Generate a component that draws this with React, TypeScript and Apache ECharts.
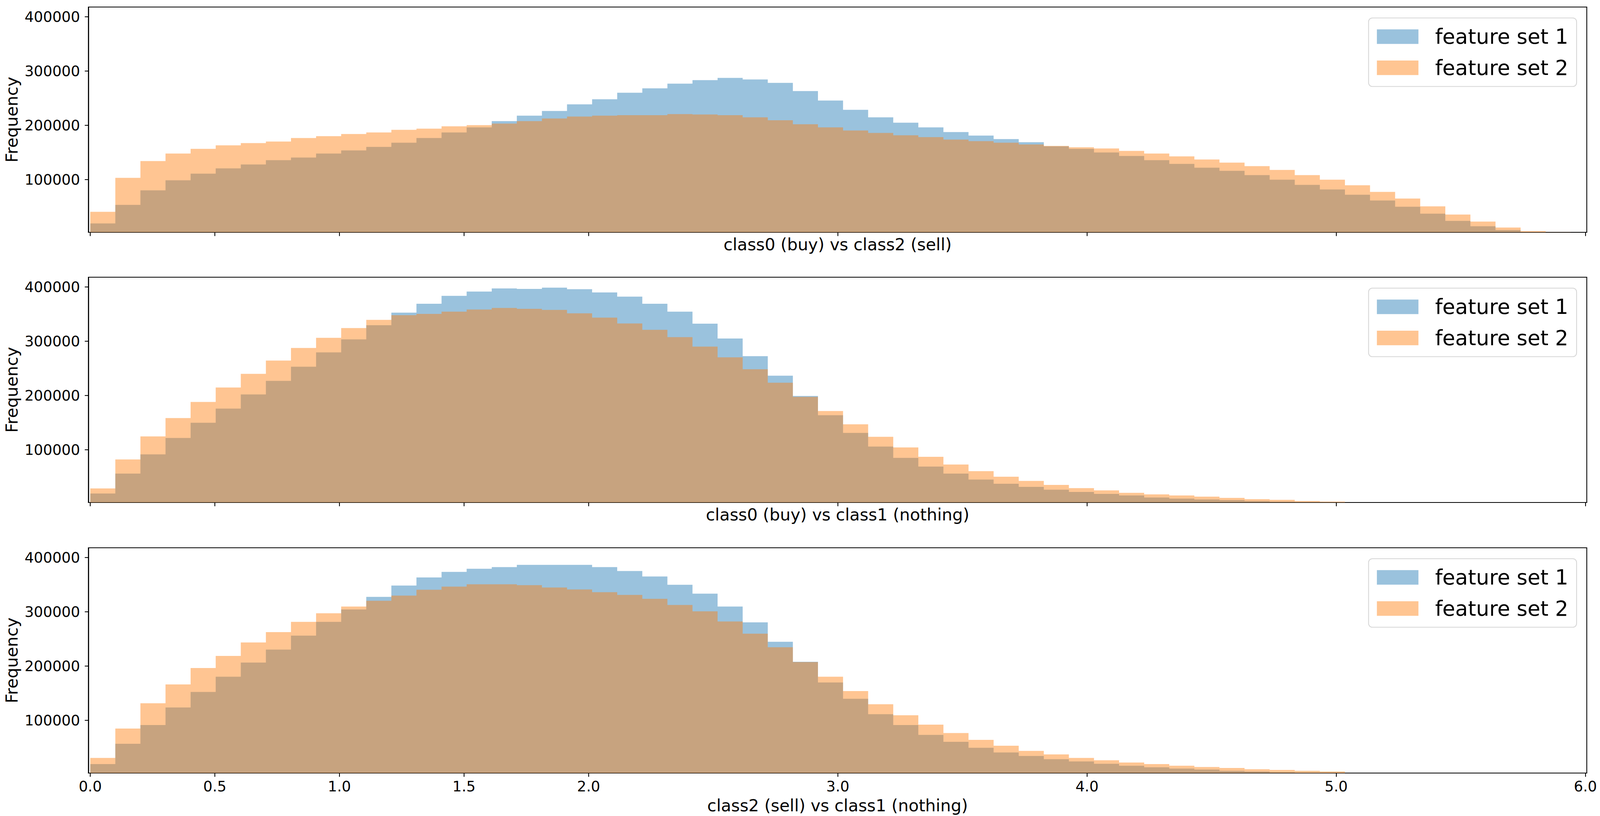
import React, { useEffect, useRef } from "react";
import * as echarts from "echarts";

// ---------- data ----------
const BIN_WIDTH = 0.1007;
const X_TICKS = [0, 0.5, 1.0, 1.5, 2.0, 3.0, 4.0, 5.0, 6.0];
const Y_TICKS = [100000, 200000, 300000, 400000];
const SERIES_NAMES = ["feature set 1", "feature set 2"];
const PANEL_TITLES = [
  "class0 (buy) vs class2 (sell)",
  "class0 (buy) vs class1 (nothing)",
  "class2 (sell) vs class1 (nothing)",
];

const P1_FS1 = [
  19300, 53600, 80300, 98900, 111100, 120800, 127900, 135900, 140700, 148100,
  153900, 160300, 168000, 176700, 187000, 196300, 207800, 217800, 226500, 238700,
  248000, 260200, 268200, 276900, 283300, 287500, 284600, 278200, 263100, 245700,
  228700, 214900, 204900, 196300, 187600, 181200, 174700, 169000, 161500, 156800,
  150000, 143600, 135900, 129100, 122100, 116300, 108300, 99900, 90300, 81900,
  72300, 61700, 50100, 37300, 24100, 14100, 7100, 3500, 1500,
];
const P1_FS2 = [
  40800, 103400, 134300, 148100, 156800, 163200, 167400, 170300, 176700, 180200,
  184100, 187000, 191800, 194000, 198200, 200400, 203300, 207800, 212700, 216200,
  217800, 218800, 218800, 220700, 220000, 218800, 214900, 209400, 202100, 196300,
  190500, 186000, 181800, 178300, 173800, 170900, 168000, 164800, 162200, 159700,
  157400, 152900, 148100, 142900, 137200, 131400, 125000, 117900, 108300, 99900,
  89600, 77400, 65200, 50800, 35700, 22800, 11900, 5100, 3200,
];
const P2_FS1 = [
  19500, 56200, 91600, 121900, 149900, 176000, 202000, 227100, 253200, 279600,
  303400, 329500, 352700, 369100, 383600, 391600, 397400, 396400, 398700, 395800,
  390000, 382300, 369100, 354600, 332400, 305000, 272500, 236500, 199100, 163700,
  131200, 106100, 85200, 69100, 56200, 45300, 37600, 31800, 26600, 22400,
  18900, 16000, 12100, 10200, 8600, 7300, 5700, 4700, 4100, 3800,
  2500, 1500, 800, 400, 200, 100, 50, 0, 0,
];
const P2_FS2 = [
  28900, 82300, 124800, 158600, 188200, 214900, 240000, 264500, 287600, 306300,
  324300, 339500, 348100, 350400, 354600, 358400, 361300, 359700, 357800, 351400,
  343600, 332700, 321100, 307600, 290200, 270300, 248400, 223600, 197500, 171500,
  147000, 124100, 104500, 87100, 73000, 60700, 50400, 42700, 35300, 29500,
  25300, 20800, 17900, 16000, 13700, 11500, 9200, 7900, 5700, 4700,
  2800, 1800, 1000, 600, 300, 150, 80, 0, 0,
];
const P3_FS1 = [
  19500, 57000, 91500, 123800, 152500, 180500, 206600, 230400, 256200, 281600,
  304400, 327600, 348500, 363400, 373600, 379400, 382400, 386600, 386600, 386600,
  382400, 375200, 365100, 349800, 333500, 309700, 280600, 244800, 207900, 169800,
  139800, 111400, 91500, 73300, 60500, 49500, 41000, 34500, 28600, 24400,
  20100, 16500, 13600, 11300, 9400, 7100, 5800, 4500, 3800, 3500,
  2200, 1300, 700, 300, 150, 80, 0, 0, 0,
];
const P3_FS2 = [
  30900, 85000, 131600, 166200, 196500, 218700, 243500, 262700, 281600, 297300,
  309700, 320400, 329900, 340600, 346500, 350700, 350700, 349100, 344900, 341300,
  336100, 331200, 324000, 312600, 300900, 282300, 259800, 234700, 207500, 180500,
  154100, 129700, 109500, 92200, 76800, 64100, 53400, 43900, 37400, 30900,
  26600, 22400, 19500, 16500, 14200, 12300, 10000, 8700, 7100, 5800,
  2600, 1600, 900, 500, 250, 100, 0, 0, 0,
];

const PANELS = [
  [P1_FS1, P1_FS2],
  [P2_FS1, P2_FS2],
  [P3_FS1, P3_FS2],
];

// ---------- style / layout (in reference pixels of a 4236 x 2090 page) ----------
const REF_W = 4236;
const REF_H = 2090;
const FONT = "DejaVu Sans";
const COLORS = ["#1f77b4", "#ff7f0e"];
const COLORS_A = ["rgba(31,119,180,0.45)", "rgba(255,127,14,0.45)"];
const X_MIN = -0.0074;
const X_MAX = 6.0055;
const Y_MIN = 3000;
const Y_MAX = 418000;
const GRID_LEFT = 234;
const GRID_WIDTH = 3967;
const GRID_HEIGHT = 577;
const GRID_TOPS = [18, 710, 1403];

function stepData(counts: number[]) {
  const pts: number[][] = counts.map((c, i) => [i * BIN_WIDTH, c]);
  pts.push([counts.length * BIN_WIDTH, counts[counts.length - 1]]);
  return pts;
}

export default function App() {
  const ref = useRef<HTMLDivElement>(null);

  useEffect(() => {
    const el = ref.current;
    if (!el) return;
    const chart = echarts.init(el, undefined, { renderer: "svg" });
    const cw = el.clientWidth || REF_W;
    const ch = el.clientHeight || REF_H;
    const sx = cw / REF_W;
    const sy = ch / REF_H;
    const sf = Math.min(sx, sy);
    const X = (v: number) => v * sx;
    const Y = (v: number) => v * sy;
    const F = (v: number) => v * sf;

    const grid = GRID_TOPS.map((top) => ({
      left: X(GRID_LEFT),
      top: Y(top),
      width: X(GRID_WIDTH),
      height: Y(GRID_HEIGHT),
      show: true,
      borderColor: "#000",
      borderWidth: F(2.2),
      backgroundColor: "transparent",
      containLabel: false,
    }));

    const xAxis = GRID_TOPS.map((_, i) => ({
      type: "value",
      gridIndex: i,
      min: X_MIN,
      max: X_MAX,
      name: PANEL_TITLES[i],
      nameLocation: "middle",
      nameGap: Y(i === 2 ? 62 : 10),
      nameTextStyle: { fontSize: F(44), fontFamily: FONT, color: "#000" },
      axisLine: { show: true, onZero: false, lineStyle: { color: "#000", width: F(2.2) } },
      axisTick: {
        show: true,
        inside: false,
        length: Y(9.6),
        customValues: X_TICKS,
        lineStyle: { color: "#000", width: F(2.2) },
      },
      axisLabel: {
        show: i === 2,
        customValues: X_TICKS,
        margin: Y(15),
        fontSize: F(38.5),
        fontFamily: FONT,
        color: "#000",
        formatter: (v: number) => v.toFixed(1),
      },
      splitLine: { show: false },
    }));

    const yAxis = GRID_TOPS.map((_, i) => ({
      type: "value",
      gridIndex: i,
      min: Y_MIN,
      max: Y_MAX,
      name: "Frequency",
      nameLocation: "middle",
      nameGap: X(172),
      nameTextStyle: { fontSize: F(44), fontFamily: FONT, color: "#000" },
      axisLine: { show: true, onZero: false, lineStyle: { color: "#000", width: F(2.2) } },
      axisTick: {
        show: true,
        inside: false,
        length: X(9.6),
        customValues: Y_TICKS,
        lineStyle: { color: "#000", width: F(2.2) },
      },
      axisLabel: {
        show: true,
        customValues: Y_TICKS,
        margin: X(22),
        fontSize: F(38.5),
        fontFamily: FONT,
        color: "#000",
        formatter: (v: number) => String(v),
      },
      splitLine: { show: false },
    }));

    const series: any[] = [];
    PANELS.forEach((pair, i) => {
      pair.forEach((counts, k) => {
        series.push({
          type: "line",
          name: SERIES_NAMES[k],
          xAxisIndex: i,
          yAxisIndex: i,
          data: stepData(counts),
          step: "end",
          symbol: "none",
          showSymbol: false,
          color: COLORS_A[k],
          lineStyle: { width: 0, opacity: 0 },
          itemStyle: { color: COLORS_A[k] },
          areaStyle: { color: COLORS[k], opacity: 0.45, origin: "start" },
          clip: true,
          silent: true,
          emphasis: { disabled: true },
        });
      });
    });

    const legend = GRID_TOPS.map((top) => ({
      orient: "vertical",
      right: X(62),
      top: Y(top + 28),
      data: SERIES_NAMES.map((n, k) => ({
        name: n,
        icon: "rect",
        itemStyle: { color: COLORS_A[k], borderWidth: 0 },
      })),
      itemWidth: F(110),
      itemHeight: F(38.5),
      itemGap: F(27.5),
      padding: F(22),
      backgroundColor: "rgba(255,255,255,0.8)",
      borderColor: "rgba(204,204,204,0.8)",
      borderWidth: F(2.2),
      borderRadius: F(10),
      selectedMode: false,
      textStyle: {
        fontSize: F(55),
        lineHeight: F(55),
        fontFamily: FONT,
        color: "#000",
        padding: [0, 0, 0, F(39)],
      },
    }));

    chart.setOption({
      animation: false,
      backgroundColor: "#fff",
      textStyle: { fontFamily: FONT },
      grid,
      xAxis,
      yAxis,
      legend,
      series,
    });

    return () => chart.dispose();
  }, []);

  return (
    <div
      ref={ref}
      style={{ position: "fixed", left: 0, top: 0, width: "100vw", height: "100vh" }}
    />
  );
}
